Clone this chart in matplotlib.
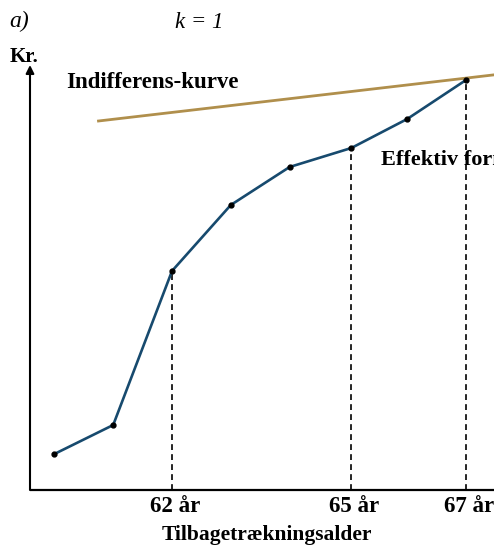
import matplotlib
matplotlib.use("Agg")
import matplotlib.pyplot as plt

# data (arbitrary kr-units)
alder = [60, 61, 62, 63, 64, 65.05, 66, 67]
kr = [36, 65, 219, 285, 323, 342, 371, 410]
indiff_x = [60.75, 67.6]
indiff_y = [369, 416]
markering = [62, 65.05, 67]
mark_labels = ["62 år", "65 år", "67 år"]

plt.rcParams['font.family'] = ['Liberation Serif', 'DejaVu Serif']

fig = plt.figure(figsize=(4.94, 5.49), dpi=100)
ax = fig.add_axes([30/494, 59/549, 464/494, 425/549])
ax.set_xlim(59.585, 67.476)
ax.set_ylim(0, 425)
ax.axis('off')

# akser
ax.annotate('', xy=(59.585, 425), xytext=(59.585, 0), xycoords='data',
            arrowprops=dict(arrowstyle='-|>', color='black', lw=1.5,
                            mutation_scale=12, shrinkA=0, shrinkB=0),
            annotation_clip=False)
ax.plot([59.585, 67.6], [0, 0], color='black', lw=1.6, clip_on=False,
        solid_capstyle='butt')

# indifferenskurve
ax.plot(indiff_x, indiff_y, color='#b08f4c', lw=2, clip_on=True)

# stiplede linjer
for a, y in zip(markering, [kr[alder.index(m)] for m in markering]):
    ax.plot([a, a], [0, y], color='black', ls=(0, (3.5, 2.5)), lw=1.2)

# effektiv formue
ax.plot(alder, kr, color='#174a6e', lw=1.9, zorder=3)
ax.plot(alder, kr, 'o', color='black', ms=3.5, zorder=4)

for a, t in zip(markering, mark_labels):
    ax.text(a + 0.05, -16, t, ha='center', va='center', fontsize=16.5,
            fontweight='bold', clip_on=False)

fig.text(267/494, 1 - 535/549, "Tilbagetrækningsalder", ha='center', va='center',
         fontsize=15.5, fontweight='bold')
fig.text(152/494, 1 - 83/549, "Indifferens-kurve", ha='center', va='center',
         fontsize=16.5, fontweight='bold')
fig.text(381/494, 1 - 160/549, "Effektiv formue", ha='left', va='center',
         fontsize=16, fontweight='bold')
fig.text(10/494, 1 - 57/549, "Kr.", ha='left', va='center',
         fontsize=15, fontweight='bold')
fig.text(9/494, 1 - 21/549, "a)", ha='left', va='center',
         fontsize=17, style='italic')
fig.text(175/494, 1 - 22/549, "k = 1", ha='left', va='center',
         fontsize=16.5, style='italic')

fig.savefig("out.png", dpi=100)
